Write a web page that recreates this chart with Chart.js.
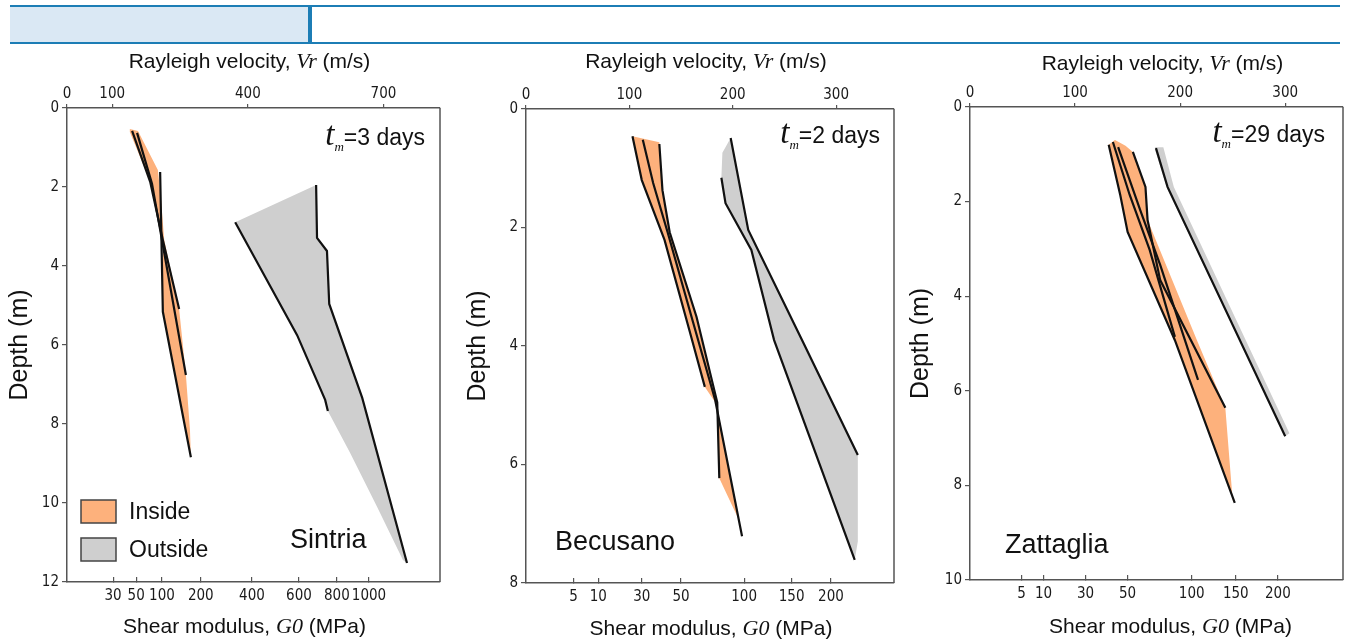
<!DOCTYPE html>
<html>
<head>
<meta charset="utf-8">
<script src="https://cdn.jsdelivr.net/npm/chart.js@4.4.1/dist/chart.umd.min.js"></script>
<style>
  body { margin: 0; background: #fff; width: 1346px; height: 642px; overflow: hidden; position: relative; }
  .hline { position: absolute; left: 10px; width: 1330px; height: 2px; background: #1c7db5; }
  .hfill { position: absolute; left: 10px; top: 7px; width: 298px; height: 35px; background: #dae8f4; }
  .hbar { position: absolute; left: 308px; top: 6px; width: 4px; height: 37px; background: #1c7db5; }
  .panel { position: absolute; top: 45px; height: 597px; }
</style>
</head>
<body>
<div class="hfill"></div>
<div class="hline" style="top:5px"></div>
<div class="hline" style="top:42px"></div>
<div class="hbar"></div>

<div class="panel" style="left:0;width:450px"><canvas id="sintria"></canvas></div>
<div class="panel" style="left:450px;width:450px"><canvas id="becusano"></canvas></div>
<div class="panel" style="left:900px;width:446px"><canvas id="zattaglia"></canvas></div>

<script>
// ---- data: [Rayleigh velocity (m/s), depth (m)] ----

// Sintria, tm = 3 days
const sintriaVrTicks = [0, 100, 400, 700];
const sintriaG0Labels = [30, 50, 100, 200, 400, 600, 800, 1000];
const sintriaG0AtVr = [102, 153, 210, 296, 409, 513, 597, 668];
const sintriaIn1 = [[206, 1.62], [212, 5.16], [274, 8.84]];
const sintriaIn2 = [[144, 0.58], [184, 1.87], [212, 3.34], [248, 5.09]];
const sintriaIn3 = [[155, 0.63], [188, 1.92], [263, 6.76]];
const sintriaInBand = [[139, 0.53], [157, 0.58], [201, 1.57], [208, 2.33], [215, 3.34], [248, 5.09],
  [263, 6.76], [272, 8.15], [274, 8.84], [212, 5.16], [212, 3.34], [184, 1.87], [139, 0.61]];
const sintriaOut1 = [[551, 1.95], [553, 3.29], [575, 3.62], [580, 4.96], [653, 7.34], [752, 11.52]];
const sintriaOut2 = [[372, 2.89], [509, 5.75], [571, 7.39], [577, 7.67]];
const sintriaOutBand = [[372, 2.89], [551, 1.95], [553, 3.29], [575, 3.62], [580, 4.96], [653, 7.34],
  [752, 11.52], [743, 11.44], [686, 10.1], [626, 8.73], [577, 7.67], [571, 7.39], [509, 5.75]];

// Becusano, tm = 2 days
const becusanoVrTicks = [0, 100, 200, 300];
const becusanoG0Labels = [5, 10, 30, 50, 100, 150, 200];
const becusanoG0AtVr = [46, 70, 112, 150, 211, 257, 295];
const becusanoIn1 = [[103, 0.46], [112, 1.2], [134, 2.21], [158, 3.73], [173, 4.69]];
const becusanoIn2 = [[113, 0.52], [123, 1.25], [137, 2.08], [161, 3.56], [183, 4.91], [209, 7.21]];
const becusanoIn3 = [[129, 0.59], [132, 1.37], [139, 2.08], [165, 3.51], [185, 4.95], [187, 6.23]];
const becusanoInBand = [[103, 0.46], [129, 0.56], [132, 1.37], [139, 2.08], [165, 3.51], [183, 4.85],
  [209, 7.21], [205, 6.9], [187, 6.23], [185, 5.0], [173, 4.69], [158, 3.73], [134, 2.21], [112, 1.2]];
const becusanoOut1 = [[198, 0.49], [215, 2.04], [267, 3.9], [321, 5.84]];
const becusanoOut2 = [[189, 1.16], [193, 1.59], [218, 2.38], [240, 3.9], [318, 7.61]];
const becusanoOutBand = [[198, 0.49], [215, 2.04], [267, 3.9], [321, 5.84], [321, 7.3], [318, 7.61],
  [240, 3.9], [218, 2.38], [193, 1.59], [189, 1.16], [190, 0.74]];

// Zattaglia, tm = 29 days
const zattagliaVrTicks = [0, 100, 200, 300];
const zattagliaG0Labels = [5, 10, 30, 50, 100, 150, 200];
const zattagliaG0AtVr = [49, 70, 110, 150, 211, 253, 293];
const zattagliaIn1 = [[132, 0.80], [143, 1.86], [150, 2.64], [195, 4.93], [252, 8.37]];
const zattagliaIn2 = [[136, 0.74], [152, 1.86], [171, 3.02], [195, 4.86]];
const zattagliaIn3 = [[141, 0.85], [162, 2.18], [181, 3.34], [217, 5.77]];
const zattagliaIn4 = [[155, 0.95], [167, 1.69], [169, 2.39], [181, 3.66], [243, 6.36]];
const zattagliaInBand = [[132, 0.80], [138, 0.70], [148, 0.82], [155, 0.95], [167, 1.69], [169, 2.39],
  [216, 4.93], [243, 6.36], [250, 8.31], [252, 8.37], [195, 4.93], [150, 2.64], [143, 1.86]];
const zattagliaOut1 = [[177, 0.87], [188, 1.69], [300, 6.96]];
const zattagliaOutBand = [[176, 0.85], [184, 0.85], [194, 1.69], [304, 6.9], [300, 6.96], [188, 1.75], [176, 0.9]];

const legendLabels = ['Inside', 'Outside'];
const insideColor = '#fdb17c';
const outsideColor = '#cfcfcf';

// ---- drawing helpers ----
const SANS = '"Liberation Sans", Arial, sans-serif';
const SERIF = '"Liberation Serif", "Times New Roman", serif';
const H = 597;

function drawParts(ctx, parts, x, y, align) {
  let total = 0;
  parts.forEach(p => { ctx.font = p.f; p.w = ctx.measureText(p.t).width; total += p.w; });
  let cx = align === 'center' ? x - total / 2 : align === 'right' ? x - total : x;
  ctx.textAlign = 'left';
  parts.forEach(p => { ctx.font = p.f; ctx.fillText(p.t, cx, y + (p.dy || 0)); cx += p.w; });
}

const decorPlugin = {
  id: 'decor',
  afterDraw(chart, args, o) {
    const ctx = chart.ctx, a = chart.chartArea;
    ctx.save();
    ctx.strokeStyle = '#555';
    ctx.lineWidth = 1.5;
    ctx.beginPath();
    ctx.moveTo(a.right, a.top);
    ctx.lineTo(a.right, a.bottom);
    ctx.stroke();

    ctx.fillStyle = '#111';
    ctx.textBaseline = 'alphabetic';
    const cx = (a.left + a.right) / 2;
    drawParts(ctx, [
      { t: 'Rayleigh velocity, ', f: '21px ' + SANS },
      { t: 'Vr', f: 'italic 22px ' + SERIF },
      { t: ' (m/s)', f: '21px ' + SANS }
    ], cx + o.topDx, o.topBase, 'center');
    drawParts(ctx, [
      { t: 'Shear modulus, ', f: '21px ' + SANS },
      { t: 'G0', f: 'italic 22px ' + SERIF },
      { t: ' (MPa)', f: '21px ' + SANS }
    ], cx + o.botDx, o.botBase, 'center');
    drawParts(ctx, [
      { t: 't', f: 'italic 33px ' + SERIF },
      { t: 'm', f: 'italic 13px ' + SERIF, dy: 6 },
      { t: '=' + o.days + ' days', f: '23px ' + SANS }
    ], a.right - o.tmRight, a.top + o.tmBase, 'right');

    ctx.font = '27px ' + SANS;
    ctx.textAlign = 'left';
    ctx.fillText(o.site, a.left + o.siteDx, a.bottom - o.siteUp);

    if (o.legend) {
      const colors = [insideColor, outsideColor];
      const tops = [82, 44];
      legendLabels.forEach((lab, i) => {
        const by = a.bottom - tops[i];
        ctx.fillStyle = colors[i];
        ctx.fillRect(a.left + 14, by, 35, 23);
        ctx.strokeStyle = '#444';
        ctx.lineWidth = 1.5;
        ctx.strokeRect(a.left + 14, by, 35, 23);
        ctx.fillStyle = '#111';
        ctx.font = '23px ' + SANS;
        ctx.fillText(lab, a.left + 62, by + 19);
      });
    }
    ctx.restore();
  }
};

function toPts(arr) { return arr.map(p => ({ x: p[0], y: p[1] })); }
function profile(arr) {
  return { data: toPts(arr), borderColor: '#111', borderWidth: 2.2, pointRadius: 0, fill: false, order: 1 };
}
function band(arr, color) {
  return { data: toPts(arr), borderWidth: 0, borderColor: 'rgba(0,0,0,0)', backgroundColor: color,
    pointRadius: 0, fill: 'shape', order: 2 };
}
function axisGrid(tl) {
  return { display: true, drawOnChartArea: false, drawTicks: true, tickLength: tl, color: '#555', lineWidth: 1.2 };
}
const tickFont = { family: '"DejaVu Sans Condensed", "DejaVu Sans", sans-serif', size: 15 };
const axisBorder = { display: true, color: '#555', width: 1.5 };

function makePanel(id, p, L, decor) {
  new Chart(document.getElementById(id), {
    type: 'line',
    data: { datasets: p.datasets },
    options: {
      responsive: true,
      maintainAspectRatio: false,
      animation: false,
      events: [],
      layout: { padding: { left: 0, top: 0, bottom: 0, right: L.padRight } },
      plugins: { legend: { display: false }, tooltip: { enabled: false }, decor: decor },
      scales: {
        x: {
          type: 'linear', position: 'top', min: 0, max: p.vrMax,
          afterBuildTicks: s => { s.ticks = p.vrTicks.map(v => ({ value: v })); },
          afterFit: s => { s.height = L.top; },
          ticks: { font: tickFont, color: '#1a1a1a', padding: 1, autoSkip: false, maxRotation: 0 },
          grid: axisGrid(4), border: axisBorder
        },
        x2: {
          type: 'linear', position: 'bottom', min: 0, max: p.vrMax,
          afterBuildTicks: s => { s.ticks = p.g0At.map(v => ({ value: v })); },
          afterFit: s => { s.height = H - L.bottom; },
          ticks: { font: tickFont, color: '#1a1a1a', padding: 10, autoSkip: false, maxRotation: 0,
            callback: (v, i) => String(p.g0Labels[i]) },
          grid: axisGrid(-5), border: axisBorder
        },
        y: {
          type: 'linear', reverse: true, min: 0, max: p.depthMax,
          afterFit: s => { s.width = L.left; },
          ticks: { stepSize: 2, font: tickFont, color: '#1a1a1a', padding: 3 },
          grid: axisGrid(5), border: axisBorder,
          title: { display: true, text: 'Depth (m)', color: '#111',
            font: { family: 'Liberation Sans', size: 25 }, padding: { top: L.yTitlePad, bottom: 0 } }
        }
      }
    },
    plugins: [decorPlugin]
  });
}

makePanel('sintria', {
  vrMax: 825, depthMax: 12, vrTicks: sintriaVrTicks, g0At: sintriaG0AtVr, g0Labels: sintriaG0Labels,
  datasets: [profile(sintriaIn1), profile(sintriaIn2), profile(sintriaIn3), profile(sintriaOut1), profile(sintriaOut2),
    band(sintriaInBand, insideColor), band(sintriaOutBand, outsideColor)]
}, { left: 67, padRight: 10, top: 63, bottom: 537, yTitlePad: 5 },
{ topDx: -4, topBase: 23, botDx: -9, botBase: 588, days: '3', tmRight: 15, tmBase: 37,
  site: 'Sintria', siteDx: 223, siteUp: 34, legend: true });

makePanel('becusano', {
  vrMax: 356, depthMax: 8, vrTicks: becusanoVrTicks, g0At: becusanoG0AtVr, g0Labels: becusanoG0Labels,
  datasets: [profile(becusanoIn1), profile(becusanoIn2), profile(becusanoIn3), profile(becusanoOut1), profile(becusanoOut2),
    band(becusanoInBand, insideColor), band(becusanoOutBand, outsideColor)]
}, { left: 76, padRight: 6, top: 64, bottom: 538, yTitlePad: 13 },
{ topDx: -4, topBase: 23, botDx: 1, botBase: 590, days: '2', tmRight: 14, tmBase: 34,
  site: 'Becusano', siteDx: 29, siteUp: 33, legend: false });

makePanel('zattaglia', {
  vrMax: 355, depthMax: 10, vrTicks: zattagliaVrTicks, g0At: zattagliaG0AtVr, g0Labels: zattagliaG0Labels,
  datasets: [profile(zattagliaIn1), profile(zattagliaIn2), profile(zattagliaIn3), profile(zattagliaIn4), profile(zattagliaOut1),
    band(zattagliaInBand, insideColor), band(zattagliaOutBand, outsideColor)]
}, { left: 70, padRight: 3, top: 62, bottom: 535, yTitlePad: 6 },
{ topDx: 6, topBase: 25, botDx: 14, botBase: 588, days: '29', tmRight: 18, tmBase: 35,
  site: 'Zattaglia', siteDx: 35, siteUp: 27, legend: false });
</script>
</body>
</html>
